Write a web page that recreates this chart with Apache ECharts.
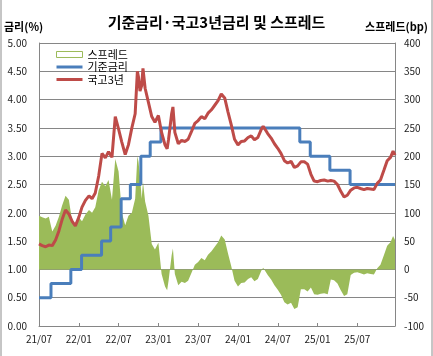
<!DOCTYPE html>
<html>
<head>
<meta charset="utf-8">
<script src="https://cdn.jsdelivr.net/npm/echarts@6/dist/echarts.min.js"></script>
<style>
  html, body { margin: 0; padding: 0; background: #fff; }
  #chart { width: 433px; height: 356px; }
</style>
</head>
<body>
<div id="chart"></div>
<script>
// ---- data ----
const dates = [
  '2021-07-01','2021-07-16','2021-08-01','2021-08-16','2021-09-01','2021-09-16','2021-10-01','2021-10-16','2021-11-01','2021-11-16','2021-12-01','2021-12-16',
  '2022-01-01','2022-01-16','2022-02-01','2022-02-16','2022-03-01','2022-03-16','2022-04-01','2022-04-16','2022-05-01','2022-05-16','2022-06-01','2022-06-16',
  '2022-07-01','2022-07-16','2022-08-01','2022-08-16','2022-09-01','2022-09-16','2022-09-26','2022-10-01','2022-10-08','2022-10-16','2022-10-22','2022-11-01',
  '2022-11-16','2022-12-01','2022-12-16','2023-01-01','2023-01-16','2023-02-01','2023-02-10','2023-02-16','2023-03-01','2023-03-07','2023-03-16','2023-04-01',
  '2023-04-16','2023-05-01','2023-05-16','2023-06-01','2023-06-16','2023-07-01','2023-07-16','2023-08-01','2023-08-16','2023-09-01','2023-09-16','2023-10-01',
  '2023-10-16','2023-11-01','2023-11-16','2023-12-01','2023-12-16','2024-01-01','2024-01-16','2024-02-01','2024-02-16','2024-03-01','2024-03-16','2024-04-01',
  '2024-04-16','2024-04-25','2024-05-01','2024-05-16','2024-06-01','2024-06-16','2024-07-01','2024-07-16','2024-08-01','2024-08-16','2024-09-01','2024-09-16',
  '2024-10-01','2024-10-16','2024-11-01','2024-11-16','2024-12-01','2024-12-16','2025-01-01','2025-01-16','2025-02-01','2025-02-16','2025-03-01','2025-03-16',
  '2025-04-01','2025-04-16','2025-05-01','2025-05-16','2025-06-01','2025-06-16','2025-07-01','2025-07-16','2025-08-01','2025-08-16','2025-09-01','2025-09-16',
  '2025-10-01','2025-10-16','2025-11-01','2025-11-16','2025-12-01','2025-12-13','2025-12-22'
];
const gov3y = [
  1.45,1.42,1.40,1.43,1.42,1.52,1.68,1.88,2.05,1.98,1.85,1.77,
  1.92,2.10,2.22,2.30,2.25,2.35,2.65,3.05,2.97,3.08,2.98,3.70,
  3.48,3.25,3.03,3.20,3.50,3.75,4.50,4.40,4.15,4.25,4.55,4.20,
  3.95,3.70,3.60,3.72,3.42,3.20,3.13,3.30,3.75,3.87,3.42,3.22,
  3.28,3.26,3.30,3.44,3.58,3.63,3.70,3.66,3.76,3.82,3.90,3.98,
  4.10,4.03,3.78,3.55,3.30,3.20,3.26,3.27,3.33,3.36,3.29,3.33,
  3.47,3.53,3.50,3.40,3.32,3.22,3.14,3.05,2.92,2.88,2.91,2.80,
  2.83,2.90,2.90,2.86,2.68,2.56,2.55,2.57,2.58,2.56,2.57,2.56,
  2.50,2.38,2.28,2.31,2.40,2.44,2.45,2.43,2.41,2.43,2.42,2.41,
  2.52,2.58,2.75,2.92,2.98,3.09,3.02
];
const spreadBp = [
  95,92,90,93,67,77,93,113,130,123,85,77,
  92,85,97,105,100,110,140,155,147,158,123,195,
  173,100,78,95,100,125,200,190,165,125,155,120,
  95,45,35,47,-8,-30,-37,-20,25,37,-8,-28,
  -22,-24,-20,-6,8,13,20,16,26,32,40,48,
  60,53,28,5,-20,-30,-24,-23,-17,-14,-21,-17,
  -3,3,0,-10,-18,-28,-36,-45,-58,-62,-59,-70,
  -67,-35,-35,-39,-32,-44,-45,-43,-42,-44,-18,-19,
  -25,-37,-47,-44,-10,-6,-5,-7,-9,-7,-8,-9,
  2,8,25,42,48,59,52
];
const baseDates = ['2021-07-01','2021-08-26','2021-11-25','2022-01-14','2022-04-14','2022-05-26','2022-07-13','2022-08-25','2022-10-12','2022-11-24','2023-01-13','2024-10-11','2024-11-28','2025-02-25','2025-05-29','2025-12-22'];
const baseRate  = [0.50,0.75,1.00,1.25,1.50,1.75,2.25,2.50,3.00,3.25,3.50,3.25,3.00,2.75,2.50,2.50];
const xTickLabels = ['21/07','22/01','22/07','23/01','23/07','24/01','24/07','25/01','25/07'];
const seriesNames = ['스프레드','기준금리','국고3년'];

// date -> months since 2021-07-01
function monthPos(s) {
  const p = s.split('-').map(Number);
  const dim = new Date(p[0], p[1], 0).getDate();
  return (p[0] - 2021) * 12 + (p[1] - 7) + (p[2] - 1) / dim;
}
const xMax = monthPos(dates[dates.length - 1]);

const gridColor = '#868686';
const font = '"Noto Sans CJK KR", "Noto Sans", sans-serif';
const lineIcon = 'path://M0,0H26V3H0Z';

const chart = echarts.init(document.getElementById('chart'), null, { renderer: 'canvas' });
chart.setOption({
  animation: false,
  backgroundColor: '#fff',
  textStyle: { fontFamily: font },
  title: {
    text: '기준금리·국고3년금리 및 스프레드',
    left: 'center', top: 10,
    textStyle: { fontFamily: font, fontSize: 15, fontWeight: 'bold', color: '#000' }
  },
  graphic: [
    { type: 'text', left: 4, top: 21, style: { text: '금리(%)', font: 'bold 11px ' + font, fill: '#000' } },
    { type: 'text', right: 5, top: 21, style: { text: '스프레드(bp)', font: 'bold 11px ' + font, fill: '#000' } },
    { type: 'line', shape: { x1: 1, y1: 0, x2: 1, y2: 356 }, style: { stroke: '#8c8c8c', lineWidth: 1 } },
    { type: 'line', shape: { x1: 432, y1: 0, x2: 432, y2: 356 }, style: { stroke: '#8c8c8c', lineWidth: 1 } }
  ],
  legend: {
    orient: 'vertical', left: 51, top: 44,
    itemWidth: 26, itemHeight: 6, itemGap: 1.5,
    symbolKeepAspect: true,
    textStyle: { fontFamily: font, fontSize: 11, color: '#000' },
    data: [
      { name: seriesNames[0], icon: 'rect', itemStyle: { color: '#fff', borderColor: '#9bbb59', borderWidth: 1 } },
      { name: seriesNames[1], icon: lineIcon, itemStyle: { color: '#4a7ebb', borderWidth: 0 } },
      { name: seriesNames[2], icon: lineIcon, itemStyle: { color: '#be4b48', borderWidth: 0 } }
    ]
  },
  grid: { left: 39, right: 38, top: 43, bottom: 30, containLabel: false },
  xAxis: {
    type: 'value', min: 0, max: xMax, interval: 6,
    axisLine: { show: true, lineStyle: { color: gridColor } },
    axisTick: { show: true, inside: true, length: 3, lineStyle: { color: gridColor } },
    splitLine: { show: false },
    axisLabel: {
      margin: 8, fontSize: 10, color: '#222', fontFamily: font,
      formatter: function (v) {
        const i = Math.round(v / 6);
        return (Math.abs(v - i * 6) < 1e-6 && xTickLabels[i]) ? xTickLabels[i] : '';
      }
    }
  },
  yAxis: [
    {
      type: 'value', min: 0, max: 5, interval: 0.5, position: 'left',
      axisLine: { show: true, lineStyle: { color: gridColor } },
      axisTick: { show: false },
      splitLine: { show: true, lineStyle: { color: gridColor, width: 1 } },
      axisLabel: { margin: 12, fontSize: 10, color: '#222', fontFamily: font, formatter: v => v.toFixed(2) }
    },
    {
      type: 'value', min: -100, max: 400, interval: 50, position: 'right',
      axisLine: { show: true, lineStyle: { color: gridColor } },
      axisTick: { show: false },
      splitLine: { show: false },
      axisLabel: { margin: 9, fontSize: 10, color: '#222', fontFamily: font }
    }
  ],
  series: [
    {
      name: seriesNames[0], type: 'line', yAxisIndex: 1,
      symbol: 'none', z: 1,
      data: dates.map((d, i) => [monthPos(d), spreadBp[i]]),
      lineStyle: { width: 0, color: '#9bbb59' },
      itemStyle: { color: '#9bbb59' },
      areaStyle: { color: '#9bbb59', opacity: 1, origin: 'auto' }
    },
    {
      name: seriesNames[1], type: 'line', yAxisIndex: 0, step: 'end',
      symbol: 'none', z: 2,
      data: baseDates.map((d, i) => [monthPos(d), baseRate[i]]),
      lineStyle: { width: 3, color: '#4a7ebb' },
      itemStyle: { color: '#4a7ebb' }
    },
    {
      name: seriesNames[2], type: 'line', yAxisIndex: 0,
      symbol: 'none', z: 3,
      data: dates.map((d, i) => [monthPos(d), gov3y[i]]),
      lineStyle: { width: 3, color: '#be4b48' },
      itemStyle: { color: '#be4b48' }
    }
  ]
});
</script>
</body>
</html>
